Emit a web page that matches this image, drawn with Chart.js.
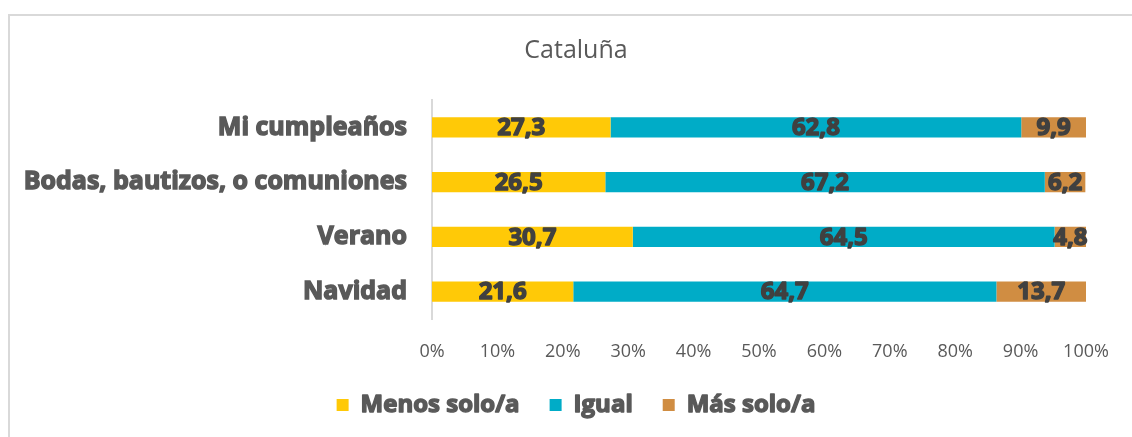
<!DOCTYPE html>
<html>
<head>
<meta charset="utf-8">
<script src="https://cdn.jsdelivr.net/npm/chart.js@4"></script>
<style>
  html, body { margin: 0; padding: 0; background: #ffffff; }
  #wrap { position: relative; width: 1132px; height: 437px; overflow: hidden; }
  #frame { position: absolute; left: 8px; top: 14px; width: 1200px; height: 500px;
           border: 2px solid #d9d9d9; box-sizing: border-box; }
  canvas { position: absolute; left: 0; top: 0; }
</style>
</head>
<body>
<div id="wrap">
  <div id="frame"></div>
  <canvas id="chart" width="1132" height="437"></canvas>
</div>
<script>
// Cataluña - 100% stacked horizontal bars

const categories = ['Mi cumpleaños', 'Bodas, bautizos, o comuniones', 'Verano', 'Navidad'];
const menosSolo = [27.3, 26.5, 30.7, 21.6];
const igual = [62.8, 67.2, 64.5, 64.7];
const masSolo = [9.9, 6.2, 4.8, 13.7];
const xTicks = [0, 10, 20, 30, 40, 50, 60, 70, 80, 90, 100];

const fam = '"Open Sans", "DejaVu Sans", sans-serif';

// draws the value in the middle of every segment (stroked to look extra heavy)
const segmentLabels = {
    id: 'segmentLabels',
    afterDatasetsDraw(chart) {
        const ctx = chart.ctx;
        ctx.save();
        ctx.font = 'bold 24px ' + fam;
        ctx.fillStyle = '#404040';
        ctx.strokeStyle = '#404040';
        ctx.lineWidth = 1.4;
        ctx.lineJoin = 'round';
        ctx.textAlign = 'center';
        ctx.textBaseline = 'middle';
        chart.data.datasets.forEach((ds, i) => {
            const meta = chart.getDatasetMeta(i);
            meta.data.forEach((bar, j) => {
                const p = bar.getProps(['x', 'base', 'y'], true);
                const cx = (p.x + p.base) / 2;
                const txt = ds.data[j].toFixed(1).replace('.', ',');
                ctx.strokeText(txt, cx, p.y + 1);
                ctx.fillText(txt, cx, p.y + 1);
            });
        });
        ctx.restore();
    }
};

// thicken the legend text the same way
const heavyLegend = {
    id: 'heavyLegend',
    afterDraw(chart) {
        const lg = chart.legend;
        if (!lg || !lg.legendHitBoxes) return;
        const ctx = chart.ctx;
        const size = 24;
        ctx.save();
        ctx.font = 'bold ' + size + 'px ' + fam;
        ctx.strokeStyle = '#595959';
        ctx.lineWidth = 1.4;
        ctx.lineJoin = 'round';
        ctx.textAlign = 'left';
        ctx.textBaseline = 'middle';
        lg.legendItems.forEach((item, i) => {
            const hb = lg.legendHitBoxes[i];
            ctx.strokeText(item.text, hb.left + 12 + size / 2, hb.top + hb.height / 2);
        });
        ctx.restore();
    }
};

new Chart(document.getElementById('chart'), {
    type: 'bar',
    data: {
        labels: categories,
        datasets: [
            { label: 'Menos solo/a', data: menosSolo, backgroundColor: '#FFC907' },
            { label: 'Igual', data: igual, backgroundColor: '#00ACC7' },
            { label: 'Más solo/a', data: masSolo, backgroundColor: '#D08D42' }
        ]
    },
    options: {
        indexAxis: 'y',
        responsive: false,
        animation: false,
        layout: { padding: { left: 5, right: -15, top: 0, bottom: 10 } },
        datasets: {
            bar: { categoryPercentage: 1, barPercentage: 0.37 }
        },
        plugins: {
            title: {
                display: true,
                text: 'Cataluña',
                color: '#595959',
                font: { size: 25, family: fam, weight: 'normal' },
                padding: { top: 36, bottom: 34 }
            },
            legend: {
                position: 'bottom',
                labels: {
                    boxWidth: 12,
                    boxHeight: 12,
                    padding: 30,
                    color: '#595959',
                    font: { size: 24, family: fam, weight: 'bold' }
                }
            },
            tooltip: { enabled: false }
        },
        scales: {
            x: {
                stacked: true,
                min: 0,
                max: 100,
                afterBuildTicks: scale => { scale.ticks = xTicks.map(v => ({ value: v })); },
                afterFit: scale => { scale.height = 44; },
                grid: { display: false, drawTicks: false },
                border: { display: false },
                ticks: {
                    padding: 22,
                    maxRotation: 0,
                    color: '#595959',
                    font: { size: 18, family: fam },
                    callback: v => v + '%'
                }
            },
            y: {
                stacked: true,
                afterFit: scale => { scale.width = 427; },
                grid: { display: false, drawTicks: false },
                border: { display: true, color: '#d9d9d9', width: 2 },
                ticks: {
                    padding: 25,
                    color: '#595959',
                    textStrokeColor: '#595959',
                    textStrokeWidth: 1.4,
                    font: { size: 25, family: fam, weight: 'bold' }
                }
            },
            // empty spacer on the right so the plot ends where the original does
            spacer: {
                type: 'linear',
                position: 'right',
                afterFit: scale => { scale.width = 61; },
                grid: { display: false },
                border: { display: false },
                ticks: { display: false }
            }
        }
    },
    plugins: [segmentLabels, heavyLegend]
});
</script>
</body>
</html>
